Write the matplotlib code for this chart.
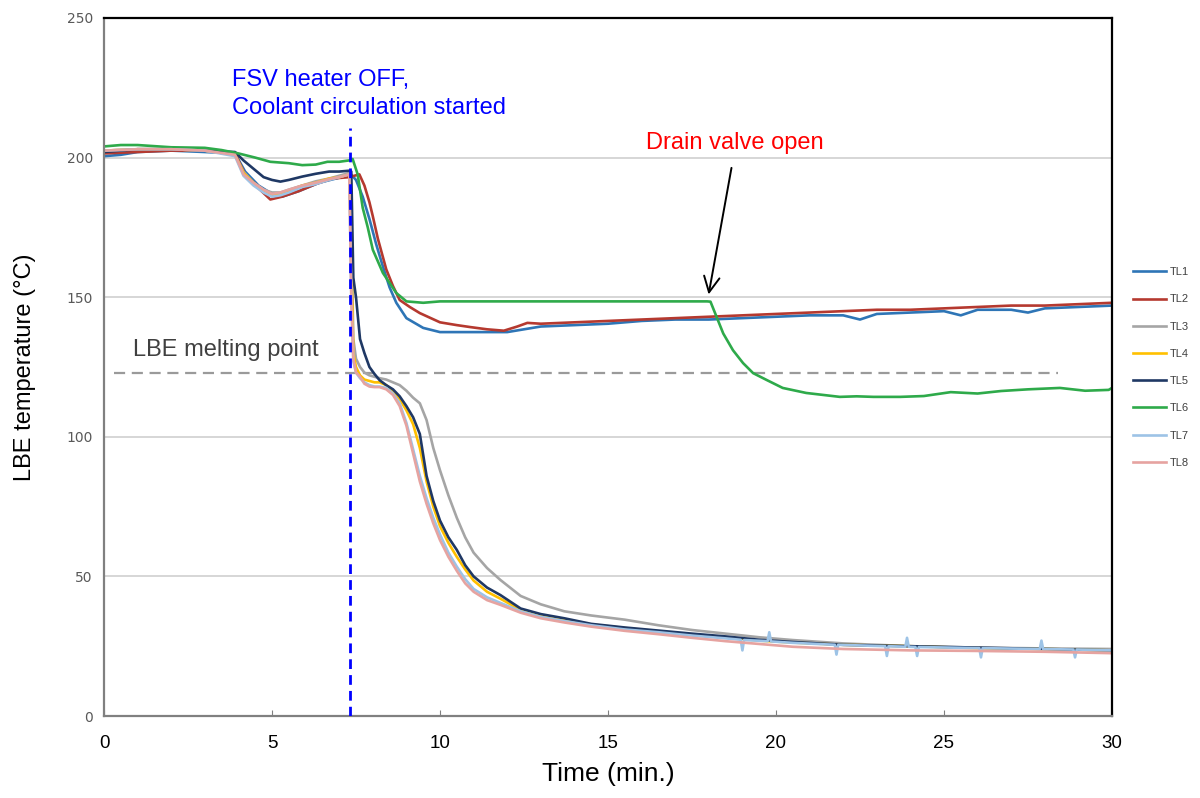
import matplotlib
matplotlib.use("Agg")
import matplotlib.pyplot as plt

plt.rcParams['font.family'] = ['Liberation Sans', 'DejaVu Sans']

# --- data (time in min, temperature in degC) ---
t1 = [0, 0.5, 1.0, 2.0, 3.0, 3.9, 4.2, 4.6, 5.0, 5.3, 5.8, 6.4, 6.9, 7.35, 7.5, 7.7, 7.9, 8.1, 8.3, 8.5,
      8.7, 9.0, 9.5, 10.0, 11.0, 12.0, 12.5, 13.0, 14.0, 15.0, 16.0, 17.0, 18.0, 19.0, 20.0, 21.0, 22.0,
      22.5, 23.0, 24.0, 25.0, 25.5, 26.0, 27.0, 27.5, 28.0, 29.0, 30.0]
T1 = [200.5, 201, 202, 202.5, 202, 201.5, 195, 190, 187, 186, 188, 191, 192.5, 194, 192, 186, 178, 169, 161, 153.5,
      148, 142.5, 139, 137.5, 137.5, 137.5, 138.5, 139.5, 140, 140.5, 141.5, 142, 142, 142.5, 143, 143.5, 143.5,
      142, 144, 144.5, 145, 143.5, 145.5, 145.5, 144.5, 146, 146.5, 147]

t2 = [0, 1, 2, 3, 3.9, 4.2, 4.6, 4.95, 5.3, 5.8, 6.3, 6.8, 7.3, 7.6, 7.75, 7.9, 8.0, 8.15, 8.4, 8.6, 8.8,
      9.1, 9.4, 10.0, 10.5, 10.9, 11.4, 11.9, 12.3, 12.6, 13.0, 14.0, 15.0, 16.0, 17.0, 18.0, 19.0, 20.0,
      21.0, 22.0, 23.0, 24.0, 25.0, 26.0, 27.0, 28.0, 29.0, 30.0]
T2 = [201.5, 202, 202.5, 202.5, 201.5, 194, 189, 185, 186, 188, 190.5, 192.5, 193, 194, 190, 184, 179, 171, 160, 154, 149,
      146.5, 144.3, 141, 140, 139.3, 138.5, 138, 139.5, 140.8, 140.5, 141, 141.5, 142, 142.5, 143, 143.5, 144,
      144.5, 145, 145.5, 145.5, 146, 146.5, 147, 147, 147.5, 148]

t6 = [0, 0.5, 1.0, 2.0, 3.0, 3.5, 4.0, 4.5, 4.95, 5.5, 5.9, 6.3, 6.65, 7.0, 7.3, 7.4, 7.55, 7.7, 7.85, 8.0,
      8.3, 8.7, 9.0, 9.5, 10, 12, 14, 16, 17.95, 18.05, 18.23, 18.43, 18.72, 19.02, 19.32, 19.73, 20.2, 20.9,
      21.4, 21.9, 22.4, 22.9, 23.7, 24.4, 25.2, 26.0, 26.7, 27.5, 28.45, 29.2, 29.9, 30]
T6 = [204, 204.5, 204.5, 203.7, 203.5, 202.7, 201.5, 200, 198.5, 198, 197.3, 197.5, 198.5, 198.5, 199, 199.5, 194, 182, 175, 167,
      158.7, 151.5, 148.5, 148, 148.5, 148.5, 148.5, 148.5, 148.5, 148.4, 143, 137, 131, 126.4, 122.8, 120.3, 117.5, 115.7,
      115, 114.3, 114.5, 114.3, 114.3, 114.6, 116, 115.5, 116.4, 117, 117.5, 116.5, 116.8, 117.5]

t_low = [0, 1, 2, 3, 3.9, 4.15, 4.45, 4.75, 5.0, 5.25, 5.5, 5.9, 6.3, 6.7, 7.0, 7.3,
         7.36, 7.42, 7.5, 7.62, 7.75, 7.9, 8.05, 8.2, 8.4, 8.6, 8.8, 9.0, 9.2, 9.4, 9.6, 9.8,
         10.0, 10.25, 10.5, 10.75, 11.0, 11.4, 11.8, 12.4, 13.0, 13.7, 14.5, 15.5, 16.5, 17.5,
         18.5, 19.5, 20.5, 22, 24, 26, 28, 30]
T3 = [202.5, 203, 203, 202.5, 201, 195, 191, 188.5, 187.5, 187.5, 188.5, 190, 191.5, 192.5, 193.5, 194.5,
      175, 135, 128, 125, 123, 122, 121.5, 121, 120.5, 119.5, 118.5, 116.5, 114, 112, 106, 96,
      88, 79, 71, 64, 58.5, 53, 48.7, 43, 40, 37.5, 36, 34.5, 32.5, 30.8,
      29.5, 28.2, 27.2, 26, 25, 24.5, 24.2, 24]
T4 = [202.5, 203, 203, 202.5, 201, 194.5, 191, 188, 186.5, 187, 188, 190, 191, 192.5, 193, 194,
      165, 130, 125, 122, 120.5, 120, 119.5, 119.5, 118.5, 116.5, 113.5, 109.5, 104.5, 96, 84, 75,
      68, 62, 57, 52.5, 48.5, 44.5, 42, 38, 36, 34.5, 32.8, 31.5, 30.3, 29.2,
      28.2, 27, 26.3, 25.5, 25, 24.3, 24, 23.5]
T5 = [202, 203, 203, 202.5, 202, 199, 196, 193, 192, 191.4, 192, 193.2, 194.2, 195, 195, 195.3,
      195, 157, 150, 135, 130, 125, 122.5, 120.3, 118.5, 117, 114.5, 111, 107, 101, 86, 77,
      70, 64, 59.5, 54, 50, 46, 43.3, 38.5, 36.5, 35, 33, 31.7, 30.6, 29.5,
      28.5, 27.3, 26.5, 25.5, 25, 24.5, 24, 23.5]
T8 = [202.5, 203, 203, 202.5, 201, 194, 191, 188.5, 187, 187.5, 188.5, 190, 191, 192.3, 193, 194,
      150, 128, 123, 121.5, 119, 118, 117.8, 117.8, 117, 115, 111, 104, 94, 84, 76, 69,
      63, 57, 52, 47.5, 44.5, 41.5, 39.8, 37, 35, 33.5, 32, 30.5, 29.3, 28,
      26.8, 25.8, 24.8, 24, 23.5, 23.3, 23, 22.5]

t7 = [0, 1, 2, 3, 3.9, 4.15, 4.45, 4.75, 5.0, 5.25, 5.5, 5.9, 6.3, 6.7, 7.0, 7.3,
      7.36, 7.42, 7.5, 7.62, 7.75, 7.9, 8.05, 8.2, 8.4, 8.6, 8.8, 9.0, 9.2, 9.4, 9.6, 9.8,
      10.0, 10.25, 10.5, 10.75, 11.0, 11.4, 11.8, 12.4, 13.0, 13.7, 14.5, 15.5, 16.5, 17.5, 18.5,
      18.95, 19.0, 19.05, 19.75, 19.8, 19.85, 20.5, 21.75, 21.8, 21.85, 23.25, 23.3, 23.35,
      23.85, 23.9, 23.95, 24.15, 24.2, 24.25, 26.05, 26.1, 26.15, 27.85, 27.9, 27.95,
      28.85, 28.9, 28.95, 30]
T7 = [202.5, 203, 203, 202.5, 200.5, 193.5, 190, 187.5, 186, 186.5, 187.5, 189.5, 190.5, 192, 193, 194,
      150, 127, 123, 121, 119.5, 118.5, 118, 118, 117.5, 115.5, 112, 105, 95.5, 86, 78, 71,
      65, 58.5, 53.5, 49, 45.5, 42.5, 40.5, 37.5, 35.5, 34, 32.5, 31, 30, 28.8, 27.8,
      27.3, 23.5, 27.2, 26.8, 30, 26.7, 26.2, 25.5, 22, 25.5, 25, 21.5, 25,
      24.8, 28, 24.8, 24.7, 21.5, 24.7, 24.3, 21, 24.3, 24, 27, 24,
      23.8, 21, 23.8, 23.5]

labels = ['TL1', 'TL2', 'TL3', 'TL4', 'TL5', 'TL6', 'TL7', 'TL8']
colors = ['#2E75B6', '#B5392F', '#A5A5A5', '#FFC000', '#1F3864', '#2EAA4A', '#9DC3E6', '#E6A3A0']

melt_T = 123
valve_t = 7.32

series = [(t1, T1), (t2, T2), (t_low, T3), (t_low, T4), (t_low, T5), (t6, T6), (t7, T7), (t_low, T8)]

fig = plt.figure(figsize=(12, 7.98), dpi=100)
ax = fig.add_axes([104/1200, 82/798, 1008/1200, 698/798])

# grid
for y in [50, 100, 150, 200]:
    ax.axhline(y, color='#d0d0d0', lw=1.2, zorder=0)

# melting point line
ax.plot([0.3, 28.4], [melt_T, melt_T], color='#9a9a9a', lw=1.6, dashes=(5, 3), zorder=1)

for (tt, TT), lab, c in zip(series, labels, colors):
    ax.plot(tt, TT, color=c, lw=1.9, label=lab, zorder=2)

# heater off line
ax.plot([valve_t, valve_t], [0, 210.5], color='#0000FF', lw=2, dashes=(3.5, 2.2), zorder=3)

ax.text(3.81, 222.8, 'FSV heater OFF,\nCoolant circulation started', color='#0000FF',
        fontsize=17, ha='left', va='center', linespacing=1.4)
ax.text(18.78, 205.2, 'Drain valve open', color='#FF0000', fontsize=17, ha='center', va='center')
ax.annotate('', xy=(17.98, 150), xytext=(18.69, 197.3),
            arrowprops=dict(arrowstyle='->', color='black', lw=1.4, mutation_scale=28))
ax.text(0.86, 131, 'LBE melting point', color='#404040', fontsize=17, ha='left', va='center')

ax.set_xlim(0, 30)
ax.set_ylim(0, 250)
ax.set_xticks([0, 5, 10, 15, 20, 25, 30])
ax.set_yticks([0, 50, 100, 150, 200, 250])
ax.tick_params(axis='x', direction='in', length=4, color='#808080', labelsize=13.5, pad=14)
ax.tick_params(axis='y', length=0, labelsize=10, labelcolor='#595959', pad=8)
for lab in ax.get_yticklabels():
    lab.set_fontfamily('DejaVu Sans')

for s in ['left', 'bottom']:
    ax.spines[s].set_color('#808080')
    ax.spines[s].set_linewidth(1.6)
for s in ['top', 'right']:
    ax.spines[s].set_color('black')
    ax.spines[s].set_linewidth(1.6)

ax.set_xlabel('Time (min.)', fontsize=19, labelpad=7)
ax.set_ylabel('LBE temperature (\u00b0C)', fontsize=17, labelpad=22)

ax.legend(loc='center left', bbox_to_anchor=(1133/1200, 1 - 367.5/798), bbox_transform=fig.transFigure,
          frameon=False, fontsize=8, labelspacing=1.55, handlelength=3.0, handletextpad=0.35,
          borderpad=0, borderaxespad=0, labelcolor='#404040')

fig.savefig('out.png', dpi=100)
